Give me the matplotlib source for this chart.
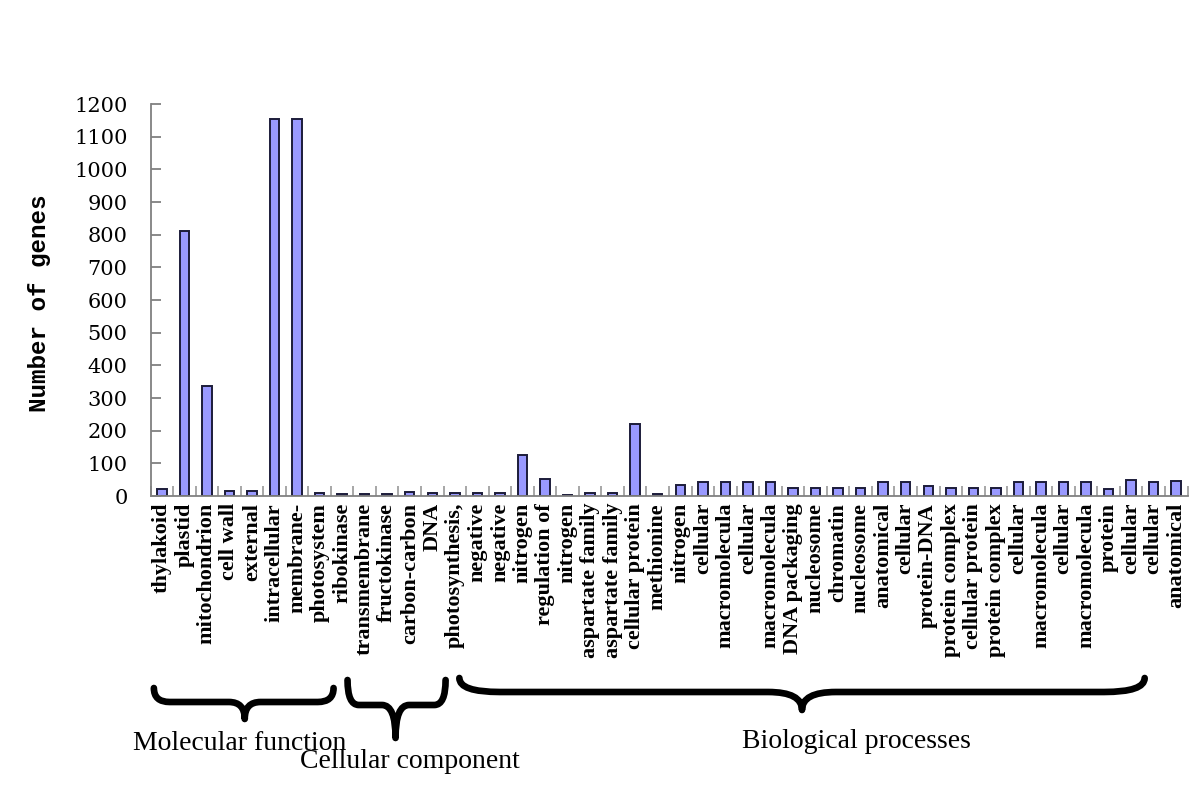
import matplotlib
matplotlib.use("Agg")
import matplotlib.pyplot as plt
from matplotlib.path import Path
from matplotlib.patches import PathPatch
from matplotlib import transforms

categories = ["thylakoid", "plastid", "mitochondrion", "cell wall", "external",
              "intracellular", "membrane-", "photosystem", "ribokinase",
              "transmembrane", "fructokinase", "carbon-carbon", "DNA",
              "photosynthesis,", "negative", "negative", "nitrogen",
              "regulation of", "nitrogen", "aspartate family", "aspartate family",
              "cellular protein", "methionine", "nitrogen", "cellular",
              "macromolecula", "cellular", "macromolecula", "DNA packaging",
              "nucleosome", "chromatin", "nucleosome", "anatomical", "cellular",
              "protein-DNA", "protein complex", "cellular protein",
              "protein complex", "cellular", "macromolecula", "cellular",
              "macromolecula", "protein", "cellular", "cellular", "anatomical"]
genes = [20, 812, 338, 16, 16, 1155, 1155, 10, 6, 6, 6, 12, 9, 9, 9, 10,
         127, 52, 4, 10, 10, 220, 7, 35, 43, 43, 43, 43, 24, 24, 24, 24,
         43, 43, 30, 24, 24, 24, 43, 43, 43, 43, 20, 50, 43, 46]
yticks = list(range(0, 1201, 100))

W, H = 1200, 799
fig = plt.figure(figsize=(W / 100, H / 100), dpi=100)
ax = fig.add_axes([150.5 / W, 1 - 496 / H, 1037 / W, 392 / H])

x = list(range(len(categories)))
ax.bar(x, genes, width=0.42, color="#9999ff", edgecolor="#1c1c3a", linewidth=1.4)

ax.set_xlim(-0.5, len(categories) - 0.5)
ax.set_ylim(0, 1200)
for s in ["top", "right"]:
    ax.spines[s].set_visible(False)
for s in ["left", "bottom"]:
    ax.spines[s].set_color("#808080")
    ax.spines[s].set_linewidth(1.3)

ax.set_yticks(yticks)
ax.set_yticklabels([str(v) for v in yticks], family="DejaVu Serif", fontsize=15)
ax.tick_params(axis="y", direction="in", length=7, width=1.3, color="#808080", pad=16.5)

ax.set_xticks(x)
ax.set_xticklabels(categories, rotation=90, family="Liberation Serif",
                   fontweight="bold", fontsize=16)
ax.tick_params(axis="x", length=0, pad=5)
ax.set_xticks([i + 0.5 for i in range(-1, len(categories))], minor=True)
ax.tick_params(axis="x", which="minor", direction="in", length=7, width=1.3,
               color="#a0a0a0")

fig.text(40 / W, 1 - 303 / H, "Number of genes", rotation=90, ha="center",
         va="center", family="Liberation Mono", fontweight="bold", fontsize=17.5)

# braces under the labels: x in category units, y in pixels from the top
trans = transforms.blended_transform_factory(ax.transData, fig.transFigure)


def brace(x0, x1, xm, y_end, y_line, y_tip, r_end, r_tip):
    f = lambda y: 1 - y / H
    verts = [(x0, f(y_end)), (x0, f(y_line)), (x0 + r_end, f(y_line)),
             (xm - r_tip, f(y_line)), (xm, f(y_line)), (xm, f(y_tip)),
             (xm, f(y_line)), (xm + r_tip, f(y_line)),
             (x1 - r_end, f(y_line)), (x1, f(y_line)), (x1, f(y_end))]
    codes = [Path.MOVETO, Path.CURVE3, Path.CURVE3, Path.LINETO, Path.CURVE3,
             Path.CURVE3, Path.CURVE3, Path.CURVE3, Path.LINETO, Path.CURVE3,
             Path.CURVE3]
    p = PathPatch(Path(verts, codes), transform=trans, fill=False, lw=4.8,
                  edgecolor="black", capstyle="round", joinstyle="round",
                  clip_on=False)
    fig.add_artist(p)


brace(-0.35, 7.62, 3.68, 688, 702, 719, 0.7, 0.7)
brace(8.24, 12.59, 10.37, 680, 705, 738, 0.5, 0.6)
brace(13.2, 43.6, 28.4, 678, 692, 710, 1.8, 1.5)

fig.text(133 / W, 1 - 743 / H, "Molecular function", ha="left", va="center",
         family="Liberation Serif", fontsize=20)
fig.text(300 / W, 1 - 762 / H, "Cellular component", ha="left", va="center",
         family="Liberation Serif", fontsize=20)
fig.text(742 / W, 1 - 742 / H, "Biological processes", ha="left", va="center",
         family="Liberation Serif", fontsize=20)

fig.savefig("out.png", dpi=100)
